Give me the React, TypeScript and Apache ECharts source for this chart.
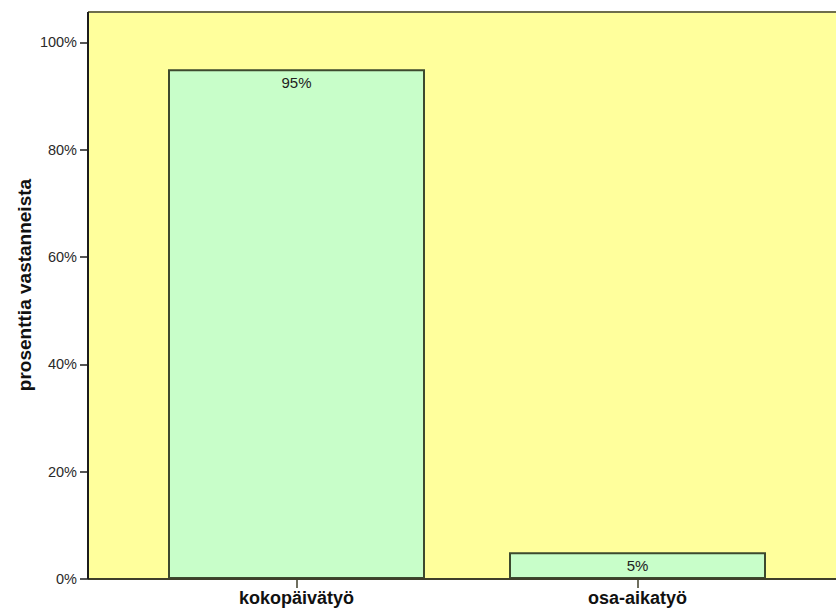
import React, { useEffect, useRef } from "react";
import * as echarts from "echarts";

// Share of respondents by type of employment
const categories = ["kokopäivätyö", "osa-aikatyö"];
const percentages = [95, 5];
const yAxisTitle = "prosenttia vastanneista";

const FONT = "'Liberation Sans', Arial, sans-serif";

export default function App() {
  const ref = useRef<HTMLDivElement>(null);

  useEffect(() => {
    if (!ref.current) return;
    const chart = echarts.init(ref.current, null, { renderer: "svg" });

    // frame of the plotting area
    const frameLeft = 88;
    const frameTop = 12;
    const frameBottom = 579;
    const frameRight = 850;

    chart.setOption({
      animation: false,
      backgroundColor: "#ffffff",
      textStyle: { fontFamily: FONT },
      graphic: [
        {
          type: "rect",
          z: -10,
          silent: true,
          shape: {
            x: frameLeft,
            y: frameTop,
            width: frameRight - frameLeft,
            height: frameBottom - frameTop,
          },
          style: { fill: "#ffff9c" },
        },
        {
          type: "line",
          z: 10,
          silent: true,
          shape: { x1: frameLeft, y1: frameTop, x2: frameRight, y2: frameTop },
          style: { stroke: "#6e6e4c", lineWidth: 2 },
        },
        {
          type: "line",
          z: 10,
          silent: true,
          shape: { x1: frameLeft, y1: frameBottom, x2: frameRight, y2: frameBottom },
          style: { stroke: "#3f3f2a", lineWidth: 2 },
        },
        {
          type: "line",
          z: 10,
          silent: true,
          shape: { x1: frameLeft, y1: frameTop, x2: frameLeft, y2: frameBottom },
          style: { stroke: "#1c1c1c", lineWidth: 2 },
        },
        // vertical axis title
        {
          type: "text",
          silent: true,
          x: 24.5,
          y: 285,
          rotation: Math.PI / 2,
          style: {
            text: yAxisTitle,
            fontFamily: FONT,
            fontSize: 19,
            fontWeight: "bold",
            fill: "#111111",
            align: "center",
            verticalAlign: "middle",
          },
        },
      ],
      grid: {
        left: 126,
        right: 28,
        top: 42.4,
        bottom: 34,
        containLabel: false,
      },
      xAxis: {
        type: "category",
        data: categories,
        axisLine: { show: false },
        axisTick: {
          show: true,
          alignWithLabel: true,
          length: 9,
          lineStyle: { color: "#3f3f2a", width: 1.5 },
        },
        axisLabel: {
          margin: 10,
          fontFamily: FONT,
          fontSize: 18,
          fontWeight: "bold",
          color: "#111111",
        },
      },
      yAxis: {
        type: "value",
        min: 0,
        max: 100,
        interval: 20,
        offset: 38,
        axisLine: { show: false },
        axisTick: {
          show: true,
          length: 8,
          lineStyle: { color: "#1c1c1c", width: 1.5 },
        },
        axisLabel: {
          margin: 11,
          fontFamily: FONT,
          fontSize: 14.5,
          color: "#2a2a2a",
          formatter: "{value}%",
        },
        splitLine: { show: false },
      },
      series: [
        {
          type: "bar",
          data: percentages,
          barWidth: 257,
          itemStyle: {
            color: "#c8fec9",
            borderColor: "#3d4a2e",
            borderWidth: 2,
          },
          label: {
            show: true,
            position: "insideTop",
            distance: 6,
            formatter: "{c}%",
            fontFamily: FONT,
            fontSize: 15,
            color: "#222222",
          },
        },
      ],
    });

    return () => {
      chart.dispose();
    };
  }, []);

  return (
    <div
      ref={ref}
      style={{ position: "absolute", left: 0, top: 0, width: 836, height: 613 }}
    />
  );
}
